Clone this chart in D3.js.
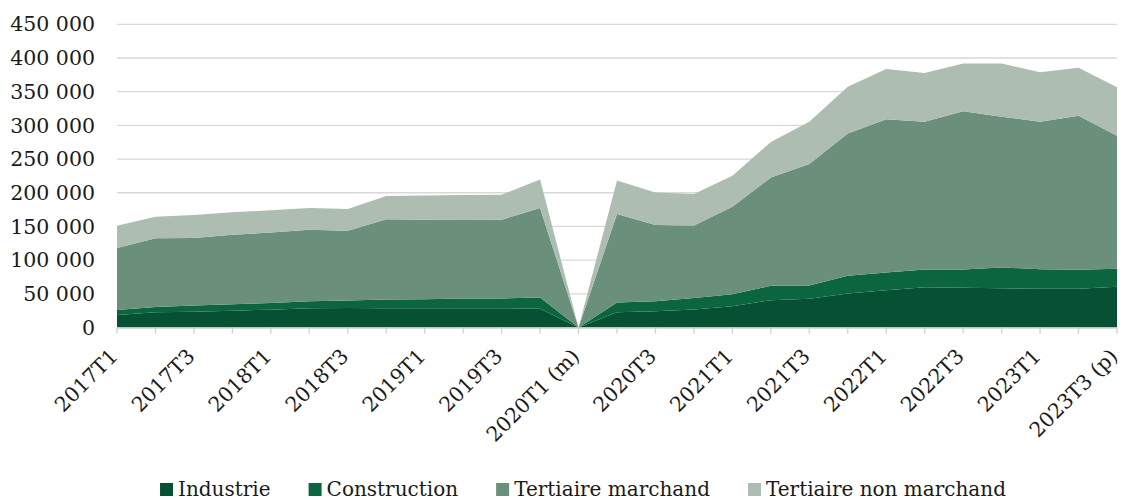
<!DOCTYPE html>
<html>
<head>
<meta charset="utf-8">
<script src="https://cdn.jsdelivr.net/npm/d3@7"></script>
<style>
  html, body { margin: 0; padding: 0; background: #fff; }
  svg { display: block; }
  text { font-family: "DejaVu Serif", serif; fill: #1a1a1a; }
</style>
</head>
<body>
<svg id="chart" width="1122" height="500"></svg>
<script>
// trimestres
const quarters = [
  "2017T1", "2017T2", "2017T3", "2017T4",
  "2018T1", "2018T2", "2018T3", "2018T4",
  "2019T1", "2019T2", "2019T3", "2019T4",
  "2020T1 (m)", "2020T2", "2020T3", "2020T4",
  "2021T1", "2021T2", "2021T3", "2021T4",
  "2022T1", "2022T2", "2022T3", "2022T4",
  "2023T1", "2023T2", "2023T3 (p)"
];

// valeurs par secteur
const industrie = [
  18500, 22500, 23500, 25000, 26500, 28500, 29000, 28500, 28500, 28500, 28500, 28000,
  0, 22800, 24300, 26700, 31700, 40600, 42600, 50500,
  55400, 59900, 58900, 58400, 57400, 57400, 60400
];
const construction = [
  7500, 8000, 9000, 9500, 10000, 10500, 11000, 13000, 13500, 14500, 14500, 16500,
  0, 14300, 14800, 16900, 17800, 21300, 19800, 26200,
  26300, 26200, 27200, 30700, 29200, 28200, 26700
];
const tertiaireMarchand = [
  92000, 102000, 100500, 103000, 104500, 106000, 103500, 119000, 118000, 116500, 117000, 133000,
  0, 131200, 112900, 107900, 129700, 160800, 180100, 211300,
  227200, 219300, 234700, 223700, 218800, 228700, 197500
];
const tertiaireNonMarchand = [
  33000, 32000, 34000, 33500, 33000, 32500, 32500, 34500, 36000, 37000, 37000, 42000,
  0, 49700, 48500, 46500, 46000, 52500, 62900, 69400,
  74700, 72300, 71200, 79200, 73300, 71300, 71800
];

const yTicks = [0, 50000, 100000, 150000, 200000, 250000, 300000, 350000, 400000, 450000];

const seriesNames = ["Industrie", "Construction", "Tertiaire marchand", "Tertiaire non marchand"];
const seriesColors = ["#065134", "#0b663f", "#6a8f7a", "#adbdb2"];

const table = quarters.map((q, i) => ({
  q,
  "Industrie": industrie[i],
  "Construction": construction[i],
  "Tertiaire marchand": tertiaireMarchand[i],
  "Tertiaire non marchand": tertiaireNonMarchand[i]
}));

const svg = d3.select("#chart");
const plotLeft = 117, plotRight = 1117, plotTop = 24.3, plotBottom = 327.5;

const x = d3.scalePoint().domain(quarters).range([plotLeft, plotRight]);
const y = d3.scaleLinear().domain([0, 450000]).range([plotBottom, plotTop]);

const fmt = v => d3.format(",")(v).replace(/,/g, " ");

// grille
svg.append("g")
  .selectAll("line")
  .data(yTicks.filter(d => d > 0))
  .enter()
  .append("line")
  .attr("x1", plotLeft).attr("x2", plotRight)
  .attr("y1", d => y(d)).attr("y2", d => y(d))
  .attr("stroke", "#d9d9d9")
  .attr("stroke-width", 1.3);

// aires empilées
const stack = d3.stack().keys(seriesNames);
const layers = stack(table);

const area = d3.area()
  .x(d => x(d.data.q))
  .y0(d => y(d[0]))
  .y1(d => y(d[1]));

svg.append("g")
  .selectAll("path")
  .data(layers)
  .enter()
  .append("path")
  .attr("fill", (d, i) => seriesColors[i])
  .attr("d", area);

// axe Y
svg.append("g")
  .selectAll("text")
  .data(yTicks)
  .enter()
  .append("text")
  .attr("x", 95)
  .attr("y", d => y(d))
  .attr("dy", "0.35em")
  .attr("text-anchor", "end")
  .style("font-size", "20.5px")
  .text(fmt);

// axe X
const xAxis = svg.append("g");
xAxis.append("line")
  .attr("x1", plotLeft).attr("x2", plotRight)
  .attr("y1", plotBottom + 0.5).attr("y2", plotBottom + 0.5)
  .attr("stroke", "#d0d0d0")
  .attr("stroke-width", 1.3);

xAxis.selectAll("line.tick")
  .data(quarters)
  .enter()
  .append("line")
  .attr("class", "tick")
  .attr("x1", d => x(d)).attr("x2", d => x(d))
  .attr("y1", plotBottom).attr("y2", plotBottom + 6)
  .attr("stroke", "#d0d0d0")
  .attr("stroke-width", 1.3);

xAxis.selectAll("text")
  .data(quarters.filter((d, i) => i % 2 === 0))
  .enter()
  .append("text")
  .attr("text-anchor", "end")
  .attr("transform", d => `translate(${x(d) + 2},${plotBottom + 30}) rotate(-45)`)
  .style("font-size", "20.5px")
  .text(d => d);

// légende
const legend = svg.append("g");
const items = legend.selectAll("g")
  .data(seriesNames)
  .enter()
  .append("g");

items.append("rect")
  .attr("width", 13).attr("height", 13)
  .attr("y", 483)
  .attr("fill", (d, i) => seriesColors[i]);

items.append("text")
  .attr("x", 18)
  .attr("y", 496)
  .style("font-size", "20px")
  .text(d => d);

let cx = 0;
const offsets = [];
items.each(function() {
  const w = d3.select(this).select("text").node().getComputedTextLength();
  offsets.push(cx);
  cx += 18 + w + 38;
});
const totalW = cx - 38;
const startX = (1122 - totalW) / 2 + 22;
items.attr("transform", (d, i) => `translate(${startX + offsets[i]},0)`);
</script>
</body>
</html>
